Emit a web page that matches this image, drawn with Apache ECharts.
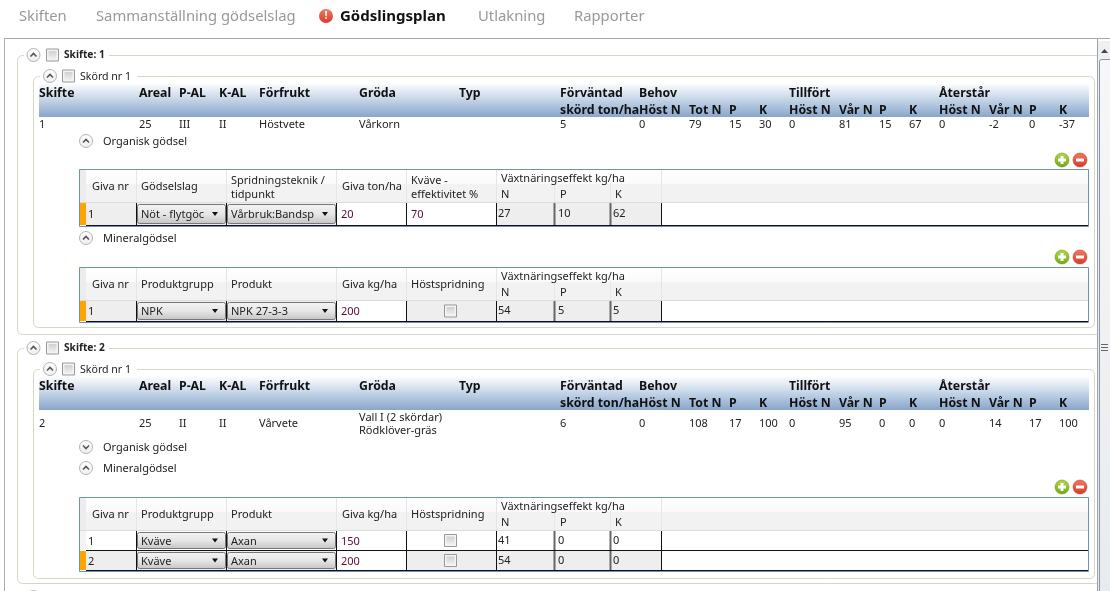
<!DOCTYPE html>
<html><head><meta charset="utf-8">
<style>html,body{margin:0;padding:0;background:#fff}#c{width:1110px;height:591px}</style>
<script src="https://cdn.jsdelivr.net/npm/echarts@6/dist/echarts.min.js"></script>
</head><body><div id="c"></div>
<script>
// ---- content ----
const tabs = ['Skiften','Sammanställning gödselslag','Gödslingsplan','Utlakning','Rapporter'];
const mainHead1 = ['Skifte','Areal','P-AL','K-AL','Förfrukt','Gröda','Typ','Förväntad','Behov','Tillfört','Återstår'];
const mainHead2 = ['skörd ton/ha','Höst N','Tot N','P','K','Höst N','Vår N','P','K','Höst N','Vår N','P','K'];
const field1Info = ['1','25','III','II','Höstvete','Vårkorn'];
const field1Nums = ['5','0','79','15','30','0','81','15','67','0','-2','0','-37'];
const field2Info = ['2','25','II','II','Vårvete'];
const field2Crop = ['Vall I (2 skördar)','Rödklöver-gräs'];
const field2Nums = ['6','0','108','17','100','0','95','0','0','0','14','17','100'];
const organicHead = ['Giva nr','Gödselslag',['Spridningsteknik /','tidpunkt'],'Giva ton/ha',['Kväve -','effektivitet %']];
const mineralHead = ['Giva nr','Produktgrupp','Produkt','Giva kg/ha','Höstspridning'];
const effectHead = ['Växtnäringseffekt kg/ha','N','P','K'];
const organicRows = [['1','Nöt - flytgöc','Vårbruk:Bandsp','20','70','27','10','62']];
const mineralRows1 = [['1','NPK','NPK 27-3-3','200','','54','5','5']];
const mineralRows2 = [['1','Kväve','Axan','150','','41','0','0'],['2','Kväve','Axan','200','','54','0','0']];

// ---- layout ----
const FONT = '"Noto Sans", sans-serif';
const headX = [39,139,179,219,259,359,459,560,639,789,939];
const numX = [560,639,689,729,759,789,839,879,909,939,989,1029,1059];
const els = [];
const linear = (stops)=>({type:'linear',x:0,y:0,x2:0,y2:1,colorStops:stops.map(s=>({offset:s[0],color:s[1]}))});
function R(x,y,w,h,fill,extra){els.push({type:'rect',silent:true,shape:Object.assign({x,y,width:w,height:h},extra&&extra.shape||{}),style:Object.assign({fill},extra&&extra.style||{})});}
function T(x,y,text,o){o=o||{};els.push({type:'text',silent:true,x,y:y+1,style:{text,fontFamily:FONT,fontSize:o.size||11,fontWeight:o.bold?'bold':'normal',fill:o.color||'#222',textVerticalAlign:'middle',textAlign:o.align||'left'}});}
function circleBtn(cx,cy,down){
  els.push({type:'circle',silent:true,shape:{cx,cy,r:6.5},style:{fill:linear([[0,'#fff'],[1,'#eee']]),stroke:'#b4b4b4',lineWidth:1}});
  const d=down?1:-1;
  els.push({type:'polyline',silent:true,shape:{points:[[cx-3,cy-d*1.5],[cx,cy+d*1.5],[cx+3,cy-d*1.5]]},style:{stroke:'#555',lineWidth:1.6,fill:null}});
}
function checkbox(cx,cy){
  R(cx-6,cy-6,12,12,'#f4f4f4',{style:{stroke:'#999',lineWidth:1}});
  R(cx-4,cy-4,8,8,linear([[0,'#d0d0d0'],[1,'#f0f0f0']]));
}
function plusMinus(cy){
  els.push({type:'circle',silent:true,shape:{cx:1062,cy,r:7},style:{fill:linear([[0,'#b4d84a'],[1,'#6fa814']]),stroke:'#6a9a20',lineWidth:.6}});
  R(1058,cy-1.5,8,3,'#fff'); R(1060.5,cy-4,3,8,'#fff');
  els.push({type:'circle',silent:true,shape:{cx:1080,cy,r:7},style:{fill:linear([[0,'#f07a60'],[1,'#d83a2a']]),stroke:'#b8402e',lineWidth:.6}});
  R(1076,cy-1.5,8,3,'#fff');
}
function fieldset(x,y,right,bottom,color,gapEnd,legendFrom){
  R(x+.5,y+.5,right-x,bottom-y,'#fff',{shape:{r:5},style:{stroke:color,lineWidth:1}});
  R(legendFrom,y-2,gapEnd-legendFrom,5,'#fff');
}
function mainHeader(y){
  R(39,y,1050,34,linear([[0,'#ffffff'],[.45,'#c9d8e9'],[1,'#88a6ca']]));
  mainHead1.forEach((t,i)=>T(headX[i],y+9,t,{bold:true,size:12.3,color:'#111'}));
  mainHead2.forEach((t,i)=>T(numX[i],y+26,t,{bold:true,size:12.3,color:'#111'}));
}
function subTable(top,heads,rows,hasCheckbox,activeRow){
  const hH=33, rowH=rows.length>1?19:(hasCheckbox?20:22);
  R(80,top+1,1008,hH,linear([[0,'#ffffff'],[.43,'#fafafa'],[.44,'#f2f2f2'],[1,'#f2f2f2']]));
  R(80,top+1,6,hH,'#ececec');
  [136,226,336,406,496,661].forEach(x=>R(x,top+1,1,hH,'#e6e6e6'));
  [554,610].forEach(x=>R(x,top+14,1,hH-13,'#e6e6e6'));
  R(80,top+hH,1008,1,'#dcdcdc');
  const tx=[92,141,231,342,411];
  heads.forEach((h,i)=>{
    if(Array.isArray(h)){T(tx[i],top+11,h[0]);T(tx[i],top+25,h[1]);}
    else T(tx[i],top+17,h);
  });
  T(501,top+9,effectHead[0]);
  T(501,top+25,effectHead[1]); T(560,top+25,effectHead[2]); T(615,top+25,effectHead[3]);
  let y=top+hH+1;
  rows.forEach((r,k)=>{
    const h=rowH, active=k===activeRow;
    R(86,y,575,h,active?'#eeeeee':'#ffffff');
    R(80,y,6,h,active?'#FFA500':'#f4f4f4');
    const my=y+h/2;
    T(88,my,r[0]);
    [[137,88,r[1],141,215],[227,108,r[2],231,325]].forEach(s=>{
      R(s[0]+.5,y+1.5,s[1],h-3,linear([[0,'#f4f4f4'],[.5,'#e6e6e6'],[1,'#c4c4c4']]),{shape:{r:2},style:{stroke:'#777',lineWidth:1}});
      T(s[3],my,s[2]);
      els.push({type:'polygon',silent:true,shape:{points:[[s[4]-3,my-2],[s[4]+3,my-2],[s[4],my+2]]},style:{fill:'#111'}});
    });
    R(337,y,69,h,'#fff');
    T(341,my,r[3],{color:'#5a0a3a'});
    if(hasCheckbox) checkbox(450.5,my);
    else { R(407,y,89,h,'#fff'); T(411,my,r[4],{color:'#5a0a3a'}); }
    T(498,my-1,r[5]); T(558,my-1,r[6]); T(613,my-1,r[7]);
    [136,226,336,406,496,661].forEach(x=>R(x,y,1,h,'#111'));
    [554,610].forEach(x=>R(x-.5,y,2,h,'#666'));
    y+=h;
    if(k<rows.length-1){R(86,y,1002,1,'#111');y+=1;}
  });
  R(86,y,1002,1,'#111');
  R(79.5,top+.5,1009,y+1-top,'transparent',{style:{stroke:'#6f90b8',lineWidth:1}});
}

// ---- page chrome ----
const tabX=[19,96,340,478,574];
tabs.forEach((t,i)=>T(tabX[i],16,t,{size:i===2?15:14.8,bold:i===2,color:i===2?'#111':'#999'}));
els.push({type:'circle',silent:true,shape:{cx:326,cy:16,r:7},style:{fill:linear([[0,'#f07a66'],[1,'#d83a2a']])}});
T(326,15,'!',{size:11,bold:true,color:'#fff',align:'center'});
R(4,38,1106,1,'#a8a8a8'); R(4,38,1,553,'#b0b0b0');

// ---- Skifte 1 ----
fieldset(17,55,1100,334,'#d6d6c4',109,24);
fieldset(33,76,1094,327,'#d6d6c4',137,40);
circleBtn(33.5,55); checkbox(52.5,55); T(64,54,'Skifte: 1',{bold:true,size:10.2});
circleBtn(50,76); checkbox(68.5,76); T(80,76,'Skörd nr 1',{size:10.6});
mainHeader(83);
const infoX=[39,139,179,219,259,359];
field1Info.forEach((t,i)=>T(infoX[i],124,t));
field1Nums.forEach((t,i)=>T(numX[i],124,t));
circleBtn(86,141); T(103,141,'Organisk gödsel');
plusMinus(160);
subTable(169,organicHead,organicRows,false,0);
circleBtn(86,238); T(103,238,'Mineralgödsel');
plusMinus(257);
subTable(267,mineralHead,mineralRows1,true,0);

// ---- Skifte 2 ----
fieldset(17,348,1100,583,'#d6d6c4',109,24);
fieldset(33,369,1094,578,'#d6d6c4',137,40);
circleBtn(33.5,348); checkbox(52.5,348); T(64,347,'Skifte: 2',{bold:true,size:10.2});
circleBtn(50,369); checkbox(68.5,369); T(80,369,'Skörd nr 1',{size:10.6});
mainHeader(376);
field2Info.forEach((t,i)=>T(infoX[i],423,t));
T(359,417,field2Crop[0]); T(359,430,field2Crop[1]);
field2Nums.forEach((t,i)=>T(numX[i],423,t));
circleBtn(86,447,true); T(103,447,'Organisk gödsel');
circleBtn(86,468); T(103,468,'Mineralgödsel');
plusMinus(487);
subTable(497,mineralHead,mineralRows2,true,1);
circleBtn(33.5,597);

// ---- scrollbar ----
R(1097,41,13,550,linear([[0,'#eef0f3'],[1,'#e6e9ed']]));
R(1097,39,1,552,'#9aa3ad');
els.push({type:'polygon',silent:true,shape:{points:[[1101,53],[1108,53],[1104.5,49]]},style:{fill:'#444'}});
R(1099.5,59.5,14,540,linear([[0,'#f6f7f8'],[1,'#e8ebee']]),{shape:{r:2},style:{stroke:'#8a96a4',lineWidth:1}});
[344,347,350].forEach(y=>R(1101,y,7,1,'#666'));

const chart = echarts.init(document.getElementById('c'),null,{renderer:'canvas'});
chart.setOption({animation:false,backgroundColor:'#fff',graphic:{elements:els}});
</script></body></html>
